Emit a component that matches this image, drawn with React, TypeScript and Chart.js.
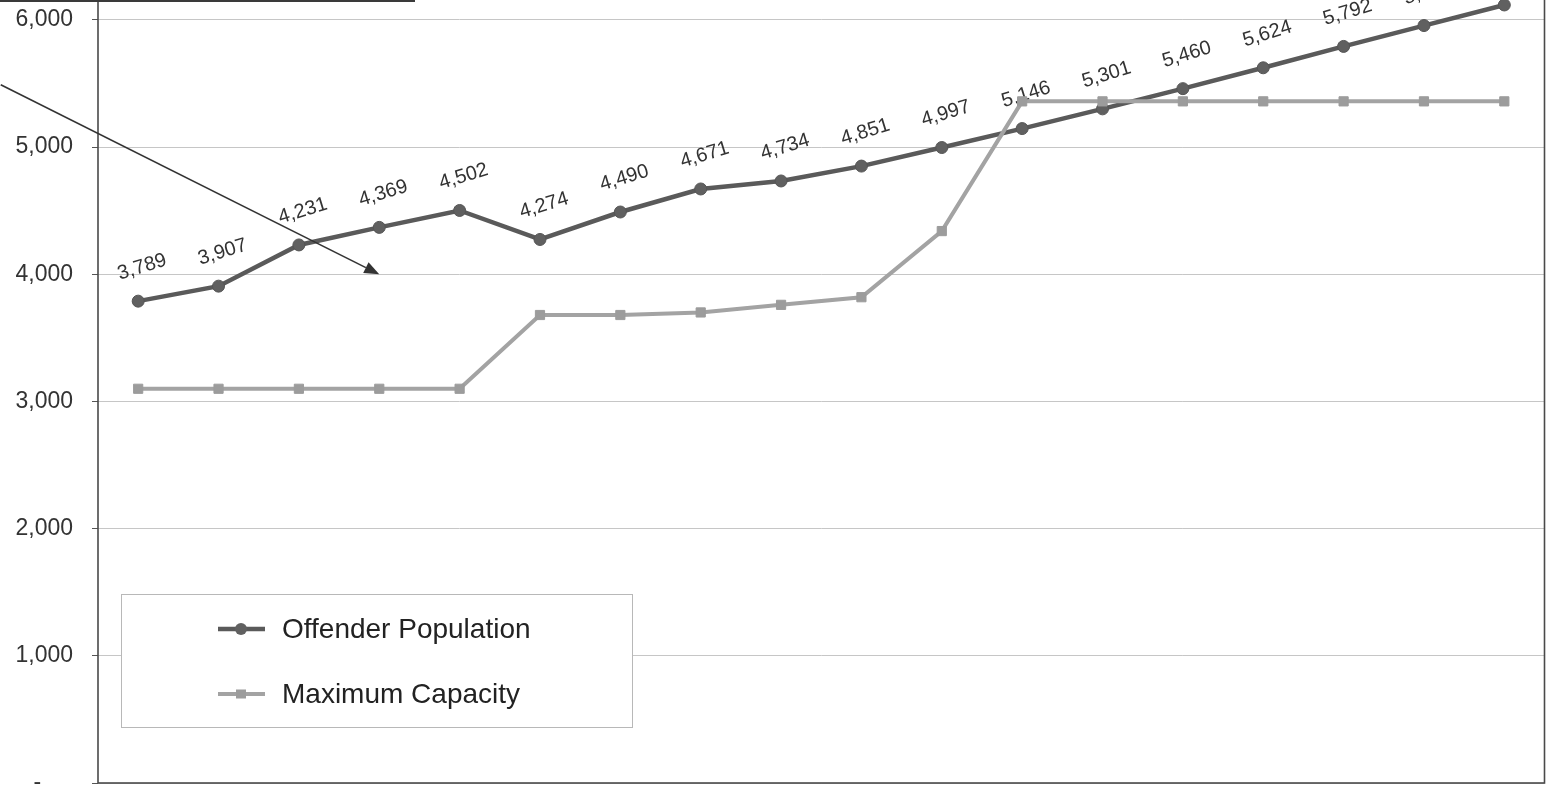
import React, { useEffect, useRef } from 'react';
import { Chart, registerables } from 'chart.js';

Chart.register(...registerables);

// Periods along the horizontal axis (labels sit below the visible area)
const periods = ['1', '2', '3', '4', '5', '6', '7', '8', '9', '10', '11', '12', '13', '14', '15', '16', '17', '18'];

const offenderPopulation = [3789, 3907, 4231, 4369, 4502, 4274, 4490, 4671, 4734, 4851, 4997, 5146, 5301, 5460, 5624, 5792, 5956, 6118];

const maximumCapacity = [3100, 3100, 3100, 3100, 3100, 3680, 3680, 3700, 3760, 3820, 4340, 5360, 5360, 5360, 5360, 5360, 5360, 5360];

const yTickValues = [0, 1000, 2000, 3000, 4000, 5000, 6000, 7000];

// Callout arrow, in (category index, value) coordinates
const arrowStart = [-1.71, 5490];
const arrowEnd = [3, 4000];

const FONT = '"Liberation Sans", Arial, Helvetica, sans-serif';
const CANVAS_W = 1552;
const CANVAS_H = 960;
const CANVAS_TOP = -150; // the chart is taller than the window; its top is scrolled off

const fmt = (v: number) => v.toLocaleString('en-US');

const frame = {
  id: 'plotFrame',
  beforeDatasetsDraw(chart: any) {
    const { ctx, chartArea: a } = chart;
    ctx.save();
    ctx.strokeStyle = '#4a4a4a';
    ctx.lineWidth = 1.6;
    ctx.strokeRect(a.left, a.top, a.right - a.left, a.bottom - a.top);
    ctx.restore();
  },
};

const pointLabels = {
  id: 'pointLabels',
  beforeDatasetsDraw(chart: any) {
    const { ctx } = chart;
    const meta = chart.getDatasetMeta(0);
    const values = chart.data.datasets[0].data as number[];
    ctx.save();
    ctx.font = `20px ${FONT}`;
    ctx.fillStyle = '#333';
    ctx.textAlign = 'center';
    ctx.textBaseline = 'middle';
    meta.data.forEach((pt: any, i: number) => {
      ctx.save();
      ctx.translate(pt.x + 4, pt.y - 34);
      ctx.rotate((-17 * Math.PI) / 180);
      ctx.fillText(fmt(values[i]), 0, 0);
      ctx.restore();
    });
    ctx.restore();
  },
};

const boxLegend = {
  id: 'boxLegend',
  afterDraw(chart: any) {
    const { ctx } = chart;
    const left = 121;
    const top = 594 - CANVAS_TOP;
    const w = 511;
    const h = 133;
    ctx.save();
    ctx.fillStyle = '#fff';
    ctx.fillRect(left, top, w, h);
    ctx.strokeStyle = '#b8b8b8';
    ctx.lineWidth = 1;
    ctx.strokeRect(left + 0.5, top + 0.5, w, h);
    chart.data.datasets.forEach((ds: any, i: number) => {
      const cy = top + 35 + i * 65;
      ctx.strokeStyle = ds.borderColor;
      ctx.lineWidth = ds.borderWidth;
      ctx.beginPath();
      ctx.moveTo(left + 97, cy);
      ctx.lineTo(left + 144, cy);
      ctx.stroke();
      ctx.fillStyle = ds.pointBackgroundColor;
      if (ds.pointStyle === 'rect') {
        ctx.fillRect(left + 115, cy - 4.5, 10, 9);
      } else {
        ctx.beginPath();
        ctx.arc(left + 120, cy, 6, 0, Math.PI * 2);
        ctx.fill();
      }
      ctx.fillStyle = '#222';
      ctx.font = `28px ${FONT}`;
      ctx.textAlign = 'left';
      ctx.textBaseline = 'middle';
      ctx.fillText(ds.label, left + 161, cy + 1);
    });
    ctx.restore();
  },
};

const calloutArrow = {
  id: 'calloutArrow',
  afterDraw(chart: any) {
    const { ctx } = chart;
    const xs = chart.scales.x;
    const ys = chart.scales.y;
    const x0 = xs.getPixelForValue(0);
    const step = xs.getPixelForValue(1) - x0;
    const toPx = (p: number[]) => [x0 + p[0] * step, ys.getPixelForValue(p[1])];
    const [sx, sy] = toPx(arrowStart);
    const [ex, ey] = toPx(arrowEnd);
    const ang = Math.atan2(ey - sy, ex - sx);
    const len = 15;
    const half = 6;
    ctx.save();
    ctx.strokeStyle = '#333';
    ctx.fillStyle = '#333';
    ctx.lineWidth = 1.6;
    ctx.beginPath();
    ctx.moveTo(sx, sy);
    ctx.lineTo(ex - Math.cos(ang) * len, ey - Math.sin(ang) * len);
    ctx.stroke();
    ctx.beginPath();
    ctx.moveTo(ex, ey);
    ctx.lineTo(ex - Math.cos(ang) * len - Math.sin(ang) * half, ey - Math.sin(ang) * len + Math.cos(ang) * half);
    ctx.lineTo(ex - Math.cos(ang) * len + Math.sin(ang) * half, ey - Math.sin(ang) * len - Math.cos(ang) * half);
    ctx.closePath();
    ctx.fill();
    ctx.restore();
  },
};

export default function App() {
  const canvasRef = useRef<HTMLCanvasElement | null>(null);

  useEffect(() => {
    if (!canvasRef.current) return;
    const chart = new Chart(canvasRef.current, {
      type: 'line',
      data: {
        labels: periods,
        datasets: [
          {
            label: 'Offender Population',
            data: offenderPopulation,
            borderColor: '#5a5a5a',
            borderWidth: 4.5,
            pointStyle: 'circle',
            pointRadius: 6,
            pointBackgroundColor: '#606060',
            pointBorderColor: '#555',
            pointBorderWidth: 1,
            tension: 0,
            order: 1,
          },
          {
            label: 'Maximum Capacity',
            data: maximumCapacity,
            borderColor: '#a3a3a3',
            borderWidth: 4,
            pointStyle: 'rect',
            pointRadius: 6.5,
            pointBackgroundColor: '#9c9c9c',
            pointBorderColor: '#9c9c9c',
            pointBorderWidth: 1,
            tension: 0,
            order: 0,
          },
        ],
      },
      options: {
        responsive: false,
        animation: false,
        devicePixelRatio: 1,
        layout: { padding: { top: 42.8, right: 5, bottom: 7, left: 0 } },
        plugins: {
          legend: { display: false },
          tooltip: { enabled: false },
        },
        scales: {
          x: {
            type: 'category',
            offset: true,
            grid: { display: false },
            border: { display: false },
            ticks: { display: false },
            afterFit: (s: any) => {
              s.height = 20;
              s.paddingLeft = 0;
              s.paddingRight = 0;
            },
          },
          y: {
            min: 0,
            max: 7000,
            afterBuildTicks: (s: any) => {
              s.ticks = yTickValues.map((v) => ({ value: v }));
            },
            afterFit: (s: any) => {
              s.width = 98;
              s.paddingTop = 0;
              s.paddingBottom = 0;
            },
            border: { display: false },
            grid: {
              color: '#c6c6c6',
              lineWidth: 1,
              tickLength: 6,
              tickColor: '#555',
            },
            ticks: {
              padding: 19,
              color: '#333',
              font: { family: FONT, size: 23 },
              callback: (v: any) => (Number(v) === 0 ? '-     ' : fmt(Number(v))),
            },
          },
        },
      },
      plugins: [frame, pointLabels, boxLegend, calloutArrow],
    });
    return () => chart.destroy();
  }, []);

  return (
    <div
      style={{
        position: 'fixed',
        left: 0,
        top: 0,
        width: CANVAS_W,
        height: 787,
        overflow: 'hidden',
        background: '#fff',
      }}
    >
      <canvas
        ref={canvasRef}
        width={CANVAS_W}
        height={CANVAS_H}
        style={{ position: 'absolute', left: 0, top: CANVAS_TOP, width: CANVAS_W, height: CANVAS_H }}
      />
      {/* lower edge of the text box above the chart */}
      <div style={{ position: 'absolute', left: 0, top: 0, width: 415, height: 2, background: '#3a3a3a' }} />
    </div>
  );
}
